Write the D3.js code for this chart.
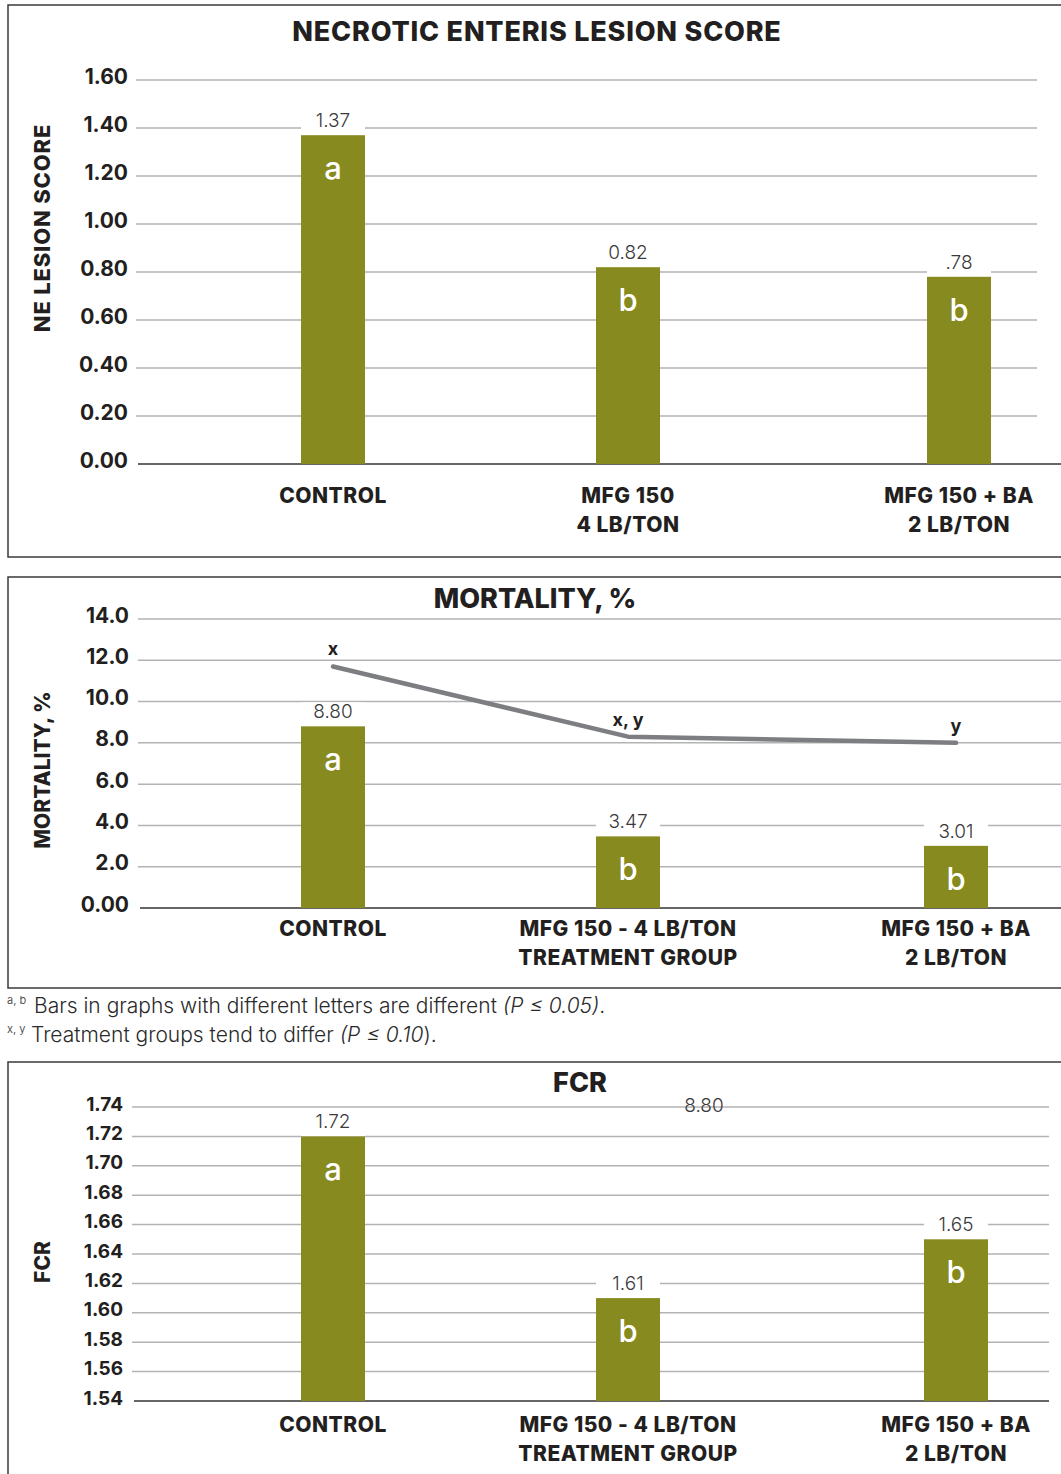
<!DOCTYPE html>
<html>
<head>
<meta charset="utf-8">
<script src="https://cdn.jsdelivr.net/npm/d3@7"></script>
<style>
  html, body { margin: 0; padding: 0; background: #fff; }
  svg { display: block; }
  text { font-family: Inter, "Open Sans", sans-serif; }
</style>
</head>
<body>
<svg id="chart" width="1061" height="1474"></svg>
<script>
// ---------- DATA ----------
const neCategories = [["CONTROL"], ["MFG 150", "4 LB/TON"], ["MFG 150 + BA", "2 LB/TON"]];
const neValues = [1.37, 0.82, 0.78];
const neValueLabels = ["1.37", "0.82", ".78"];
const neLetters = ["a", "b", "b"];
const neTicks = [0, 0.2, 0.4, 0.6, 0.8, 1.0, 1.2, 1.4, 1.6];
const neTickLabels = ["0.00", "0.20", "0.40", "0.60", "0.80", "1.00", "1.20", "1.40", "1.60"];

const mortCategories = [["CONTROL"], ["MFG 150 - 4 LB/TON", "TREATMENT GROUP"], ["MFG 150 + BA", "2 LB/TON"]];
const mortValues = [8.80, 3.47, 3.01];
const mortValueLabels = ["8.80", "3.47", "3.01"];
const mortLetters = ["a", "b", "b"];
const mortLineValues = [11.7, 8.3, 8.0];
const mortLineLetters = ["x", "x, y", "y"];
const mortTicks = [0, 2, 4, 6, 8, 10, 12, 14];
const mortTickLabels = ["0.00", "2.0", "4.0", "6.0", "8.0", "10.0", "12.0", "14.0"];

const fcrCategories = [["CONTROL"], ["MFG 150 - 4 LB/TON", "TREATMENT GROUP"], ["MFG 150 + BA", "2 LB/TON"]];
const fcrValues = [1.72, 1.61, 1.65];
const fcrValueLabels = ["1.72", "1.61", "1.65"];
const fcrLetters = ["a", "b", "b"];
const fcrTicks = [1.54, 1.56, 1.58, 1.60, 1.62, 1.64, 1.66, 1.68, 1.70, 1.72, 1.74];
const fcrTickLabels = ["1.54", "1.56", "1.58", "1.60", "1.62", "1.64", "1.66", "1.68", "1.70", "1.72", "1.74"];
const fcrStrayLabel = "8.80";   // stray label printed in the FCR panel of the original
const fcrStrayValue = 1.74;

const footnotes = [
  { sup: "a, b", text: "Bars in graphs with different letters are different ", ital: "(P ≤ 0.05)", tail: "." },
  { sup: "x, y", text: "Treatment groups tend to differ ", ital: "(P ≤ 0.10", tail: ")." }
];

// ---------- STYLE ----------
const BAR = "#878a1f";
const GRID = "#b3b3b5";
const INK = "#231f20";
const svg = d3.select("#chart");

// panel frames
[[5, 552], [577, 411], [1062, 500]].forEach(([y, h]) => {
  svg.append("rect").attr("x", 8).attr("y", y).attr("width", 1100).attr("height", h)
    .attr("fill", "none").attr("stroke", "#3a3a3a").attr("stroke-width", 1.5);
});

function drawChart(c) {
  const g = svg.append("g");
  const keys = c.categories.map((d, i) => i);
  const x = d3.scaleOrdinal().domain(keys).range(c.centers);
  const y = d3.scaleLinear().domain(c.domain).range(c.range);
  const bw = 64;

  // title
  g.append("text").attr("x", c.titleX).attr("y", c.titleY).attr("text-anchor", "middle")
    .attr("font-size", 27).attr("font-weight", 800).attr("fill", INK)
    .attr("letter-spacing", c.titleSpacing || 0).text(c.title);

  // y title
  g.append("text").attr("transform", `translate(${c.yTitleX},${c.yTitleY}) rotate(-90)`)
    .attr("text-anchor", "middle").attr("font-size", c.yTitleFont || 21).attr("font-weight", 800)
    .attr("letter-spacing", c.yTitleSpacing || 0)
    .attr("fill", INK).text(c.yTitle);

  // gridlines
  g.selectAll(".grid").data(c.ticks.filter(t => t !== c.domain[0])).join("line")
    .attr("x1", c.gridX[0]).attr("x2", c.gridX[1])
    .attr("y1", d => y(d)).attr("y2", d => y(d))
    .attr("stroke", GRID).attr("stroke-width", 1.5);
  // baseline
  g.append("line").attr("x1", c.baseX[0]).attr("x2", c.baseX[1])
    .attr("y1", y(c.domain[0])).attr("y2", y(c.domain[0]))
    .attr("stroke", "#333").attr("stroke-width", 1.5);

  // y axis labels
  const axis = d3.axisLeft(y).tickValues(c.ticks).tickSize(0).tickPadding(0)
    .tickFormat((d, i) => c.tickLabels[i]);
  const ax = g.append("g").attr("transform", `translate(${c.labelRight},0)`).call(axis);
  ax.select(".domain").remove();
  ax.selectAll("text").attr("font-size", c.tickFont).attr("font-weight", 700)
    .attr("fill", INK).attr("dy", null).attr("y", 0)
    .attr("transform", "translate(0,3)")
    .style("font-family", "Inter, 'Open Sans', sans-serif");

  // stray annotation (gridline runs through it)
  if (c.stray) {
    g.append("text").attr("x", c.stray.x).attr("y", y(c.stray.v) + 5).attr("text-anchor", "middle")
      .attr("font-size", 19).attr("font-weight", 300).attr("fill", "#3a3a3a").text(c.stray.label);
  }

  // white masks behind value labels
  g.selectAll(".mask").data(c.values).join("rect")
    .attr("x", (d, i) => x(i) - bw / 2).attr("width", bw)
    .attr("y", d => y(d) - 24).attr("height", 24).attr("fill", "#fff");

  // bars
  g.selectAll(".bar").data(c.values).join("rect")
    .attr("x", (d, i) => x(i) - bw / 2).attr("width", bw)
    .attr("y", d => y(d)).attr("height", d => y(c.domain[0]) - y(d))
    .attr("fill", BAR);

  // value labels
  g.selectAll(".val").data(c.values).join("text")
    .attr("x", (d, i) => x(i)).attr("y", d => y(d) - 8).attr("text-anchor", "middle")
    .attr("font-size", 19).attr("font-weight", 300).attr("fill", "#3a3a3a")
    .text((d, i) => c.valueLabels[i]);

  // letters
  g.selectAll(".let").data(c.values).join("text")
    .attr("x", (d, i) => x(i)).attr("y", d => y(d) + 44).attr("text-anchor", "middle")
    .attr("font-size", 31).attr("font-weight", 500).attr("fill", "#fff")
    .text((d, i) => c.letters[i]);

  // line series
  if (c.line) {
    const line = d3.line().x((d, i) => x(i)).y(d => y(d));
    g.append("path").datum(c.line).attr("d", line).attr("fill", "none")
      .attr("stroke", "#7d7e82").attr("stroke-width", 4.5).attr("stroke-linecap", "round")
      .attr("stroke-linejoin", "round");
    g.selectAll(".ll").data(c.line).join("text")
      .attr("x", (d, i) => x(i)).attr("y", d => y(d) - 11).attr("text-anchor", "middle")
      .attr("font-size", 18).attr("font-weight", 700).attr("fill", INK)
      .text((d, i) => c.lineLetters[i]);
  }

  // category labels
  c.categories.forEach((lines, i) => {
    lines.forEach((t, j) => {
      g.append("text").attr("x", x(i)).attr("y", y(c.domain[0]) + c.catDy + j * 29)
        .attr("text-anchor", "middle").attr("font-size", 21).attr("font-weight", 800)
        .attr("letter-spacing", 0.5)
        .attr("fill", INK).text(t);
    });
  });
}

drawChart({
  title: "NECROTIC ENTERIS LESION SCORE", titleX: 537, titleY: 41, titleSpacing: 0.8,
  yTitle: "NE LESION SCORE", yTitleX: 50, yTitleY: 228, yTitleFont: 22, yTitleSpacing: 0.8,
  categories: neCategories, values: neValues, valueLabels: neValueLabels, letters: neLetters,
  ticks: neTicks, tickLabels: neTickLabels, tickFont: 21,
  domain: [0, 1.6], range: [464, 80], centers: [333, 628, 959],
  gridX: [136, 1037], baseX: [138, 1061], labelRight: 128, catDy: 39
});

drawChart({
  title: "MORTALITY, %", titleX: 535, titleY: 608,
  yTitle: "MORTALITY, %", yTitleX: 50, yTitleY: 770,
  categories: mortCategories, values: mortValues, valueLabels: mortValueLabels, letters: mortLetters,
  line: mortLineValues, lineLetters: mortLineLetters,
  ticks: mortTicks, tickLabels: mortTickLabels, tickFont: 21,
  domain: [0, 14], range: [908, 619], centers: [333, 628, 956],
  gridX: [138, 1061], baseX: [140, 1061], labelRight: 129, catDy: 28
});

drawChart({
  title: "FCR", titleX: 580, titleY: 1092,
  yTitle: "FCR", yTitleX: 50, yTitleY: 1262,
  categories: fcrCategories, values: fcrValues, valueLabels: fcrValueLabels, letters: fcrLetters,
  ticks: fcrTicks, tickLabels: fcrTickLabels, tickFont: 19,
  stray: { x: 704, v: fcrStrayValue, label: fcrStrayLabel },
  domain: [1.54, 1.74], range: [1401, 1107], centers: [333, 628, 956],
  gridX: [132, 1049], baseX: [134, 1049], labelRight: 123, catDy: 31
});

// footnotes
footnotes.forEach((f, i) => {
  const yy = 1013 + i * 29;
  svg.append("text").attr("x", 7).attr("y", yy - 9).attr("font-size", 11)
    .attr("font-weight", 400).attr("fill", "#555").text(f.sup);
  const t = svg.append("text").attr("x", i === 0 ? 34 : 31).attr("y", yy)
    .attr("font-size", 21).attr("font-weight", 300).attr("fill", "#2a2a2a");
  t.append("tspan").text(f.text);
  t.append("tspan").attr("font-style", "italic").text(f.ital);
  t.append("tspan").text(f.tail);
});
</script>
</body>
</html>
